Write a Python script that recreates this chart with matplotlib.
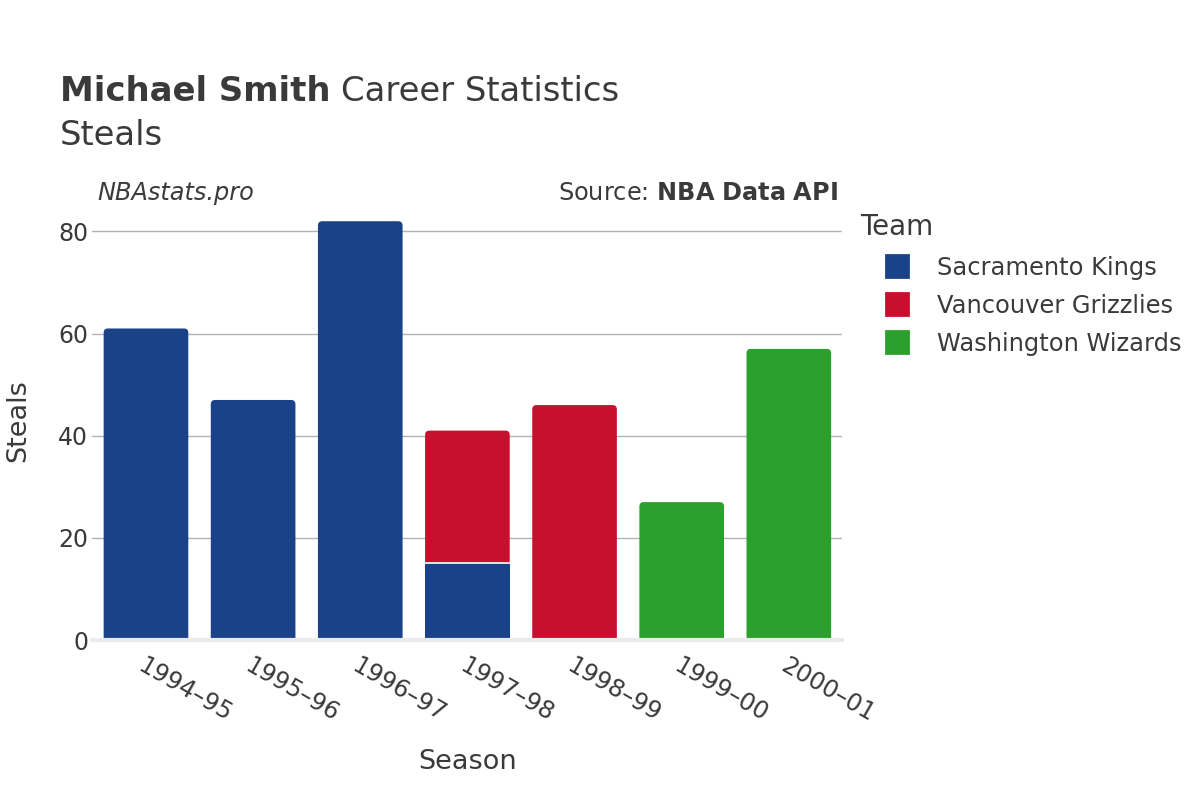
import matplotlib.pyplot as plt
from matplotlib.path import Path
from matplotlib.patches import PathPatch
from matplotlib.lines import Line2D

seasons = ['1994–95', '1995–96', '1996–97', '1997–98', '1998–99', '1999–00', '2000–01']
teams = ['Sacramento Kings', 'Vancouver Grizzlies', 'Washington Wizards']
colors = ['#1a4289', '#c8102e', '#2ca02c']
sac = [61, 47, 82, 15, 0, 0, 0]
van = [0, 0, 0, 26, 46, 0, 0]
was = [0, 0, 0, 0, 0, 27, 57]

text_color = '#3a3a3a'
plt.rcParams['font.family'] = ['DejaVu Sans']

fig = plt.figure(figsize=(12, 8), dpi=100)
ax = fig.add_axes([0.077, 0.2, 0.625, 0.549])
ax.set_xlim(-0.5, 6.5)
ax.set_ylim(0, 86)


def round_top(ax, bar, rx=0.04, ry=0.85):
    # replace a bar with one that has rounded top corners
    x0, y0 = bar.get_x(), bar.get_y()
    w, h = bar.get_width(), bar.get_height()
    x1, y1 = x0 + w, y0 + h
    verts = [(x0, y0), (x0, y1 - ry), (x0, y1), (x0 + rx, y1),
             (x1 - rx, y1), (x1, y1), (x1, y1 - ry), (x1, y0), (x0, y0)]
    codes = [Path.MOVETO, Path.LINETO, Path.CURVE3, Path.CURVE3,
             Path.LINETO, Path.CURVE3, Path.CURVE3, Path.LINETO, Path.CLOSEPOLY]
    bar.set_visible(False)
    ax.add_patch(PathPatch(Path(verts, codes), facecolor=bar.get_facecolor(),
                           edgecolor='none', zorder=3))


x = list(range(len(seasons)))
width = 0.79
bottom = [0] * len(seasons)
groups = []
for vals, col in zip([sac, van, was], colors):
    bars = ax.bar(x, vals, width, bottom=bottom, color=col, linewidth=0, zorder=3)
    groups.append(bars)
    bottom = [b + v for b, v in zip(bottom, vals)]
totals = bottom

for bars in groups:
    for i, bar in enumerate(bars):
        if bar.get_height() <= 0:
            continue
        if bar.get_y() > 0:
            ax.plot([bar.get_x(), bar.get_x() + bar.get_width()],
                    [bar.get_y(), bar.get_y()], color='white', lw=1.2, zorder=4)
        if abs(bar.get_y() + bar.get_height() - totals[i]) < 1e-9:
            round_top(ax, bar)

ax.set_yticks([0, 20, 40, 60, 80])
ax.yaxis.grid(True, color='#b3b3b3', linewidth=1, zorder=0)
ax.set_axisbelow(True)
for s in ['top', 'right', 'left']:
    ax.spines[s].set_visible(False)
ax.spines['bottom'].set_color('#ebebeb')
ax.spines['bottom'].set_linewidth(3)
ax.spines['bottom'].set_zorder(5)
ax.tick_params(axis='y', length=0, labelsize=17, colors=text_color, pad=3)
ax.tick_params(axis='x', length=0, labelsize=17.3, colors=text_color, pad=10)
ax.set_xticks(x)
ax.set_xticklabels(seasons, rotation=-30, ha='left', rotation_mode='anchor')
ax.set_xlabel('Season', fontsize=19.5, color=text_color, labelpad=16)
ax.set_ylabel('Steals', fontsize=19.5, color=text_color, labelpad=19)

# title
t1 = fig.text(0.05, 0.874, 'Michael Smith', fontsize=24.4, fontweight='bold',
              color=text_color, va='baseline')
fig.canvas.draw()
bb = t1.get_window_extent(renderer=fig.canvas.get_renderer())
fig.text(bb.x1 / fig.bbox.width + 0.009, 0.874, 'Career Statistics', fontsize=24.4,
         color=text_color, va='baseline')
fig.text(0.05, 0.819, 'Steals', fontsize=24.4, color=text_color, va='baseline')
fig.text(0.081, 0.75, 'NBAstats.pro', fontsize=17.3, style='italic',
         color=text_color, va='baseline')
fig.text(0.698, 0.75, r'Source: $\bf{NBA\ Data\ API}$', fontsize=17.3,
         color=text_color, va='baseline', ha='right')

# legend
fig.text(0.717, 0.706, 'Team', fontsize=20, color=text_color, va='baseline')
for k, (team, col) in enumerate(zip(teams, colors)):
    yk = 0.668 - k * 0.0475
    fig.add_artist(Line2D([0.7475], [yk], marker='s', markersize=16, linestyle='none',
                          markerfacecolor=col, markeredgecolor=col, markeredgewidth=2,
                          solid_joinstyle='round', transform=fig.transFigure))
    fig.text(0.781, yk, team, fontsize=17.4, color=text_color, va='center_baseline')

fig.savefig('out.png', dpi=100, facecolor='white')
